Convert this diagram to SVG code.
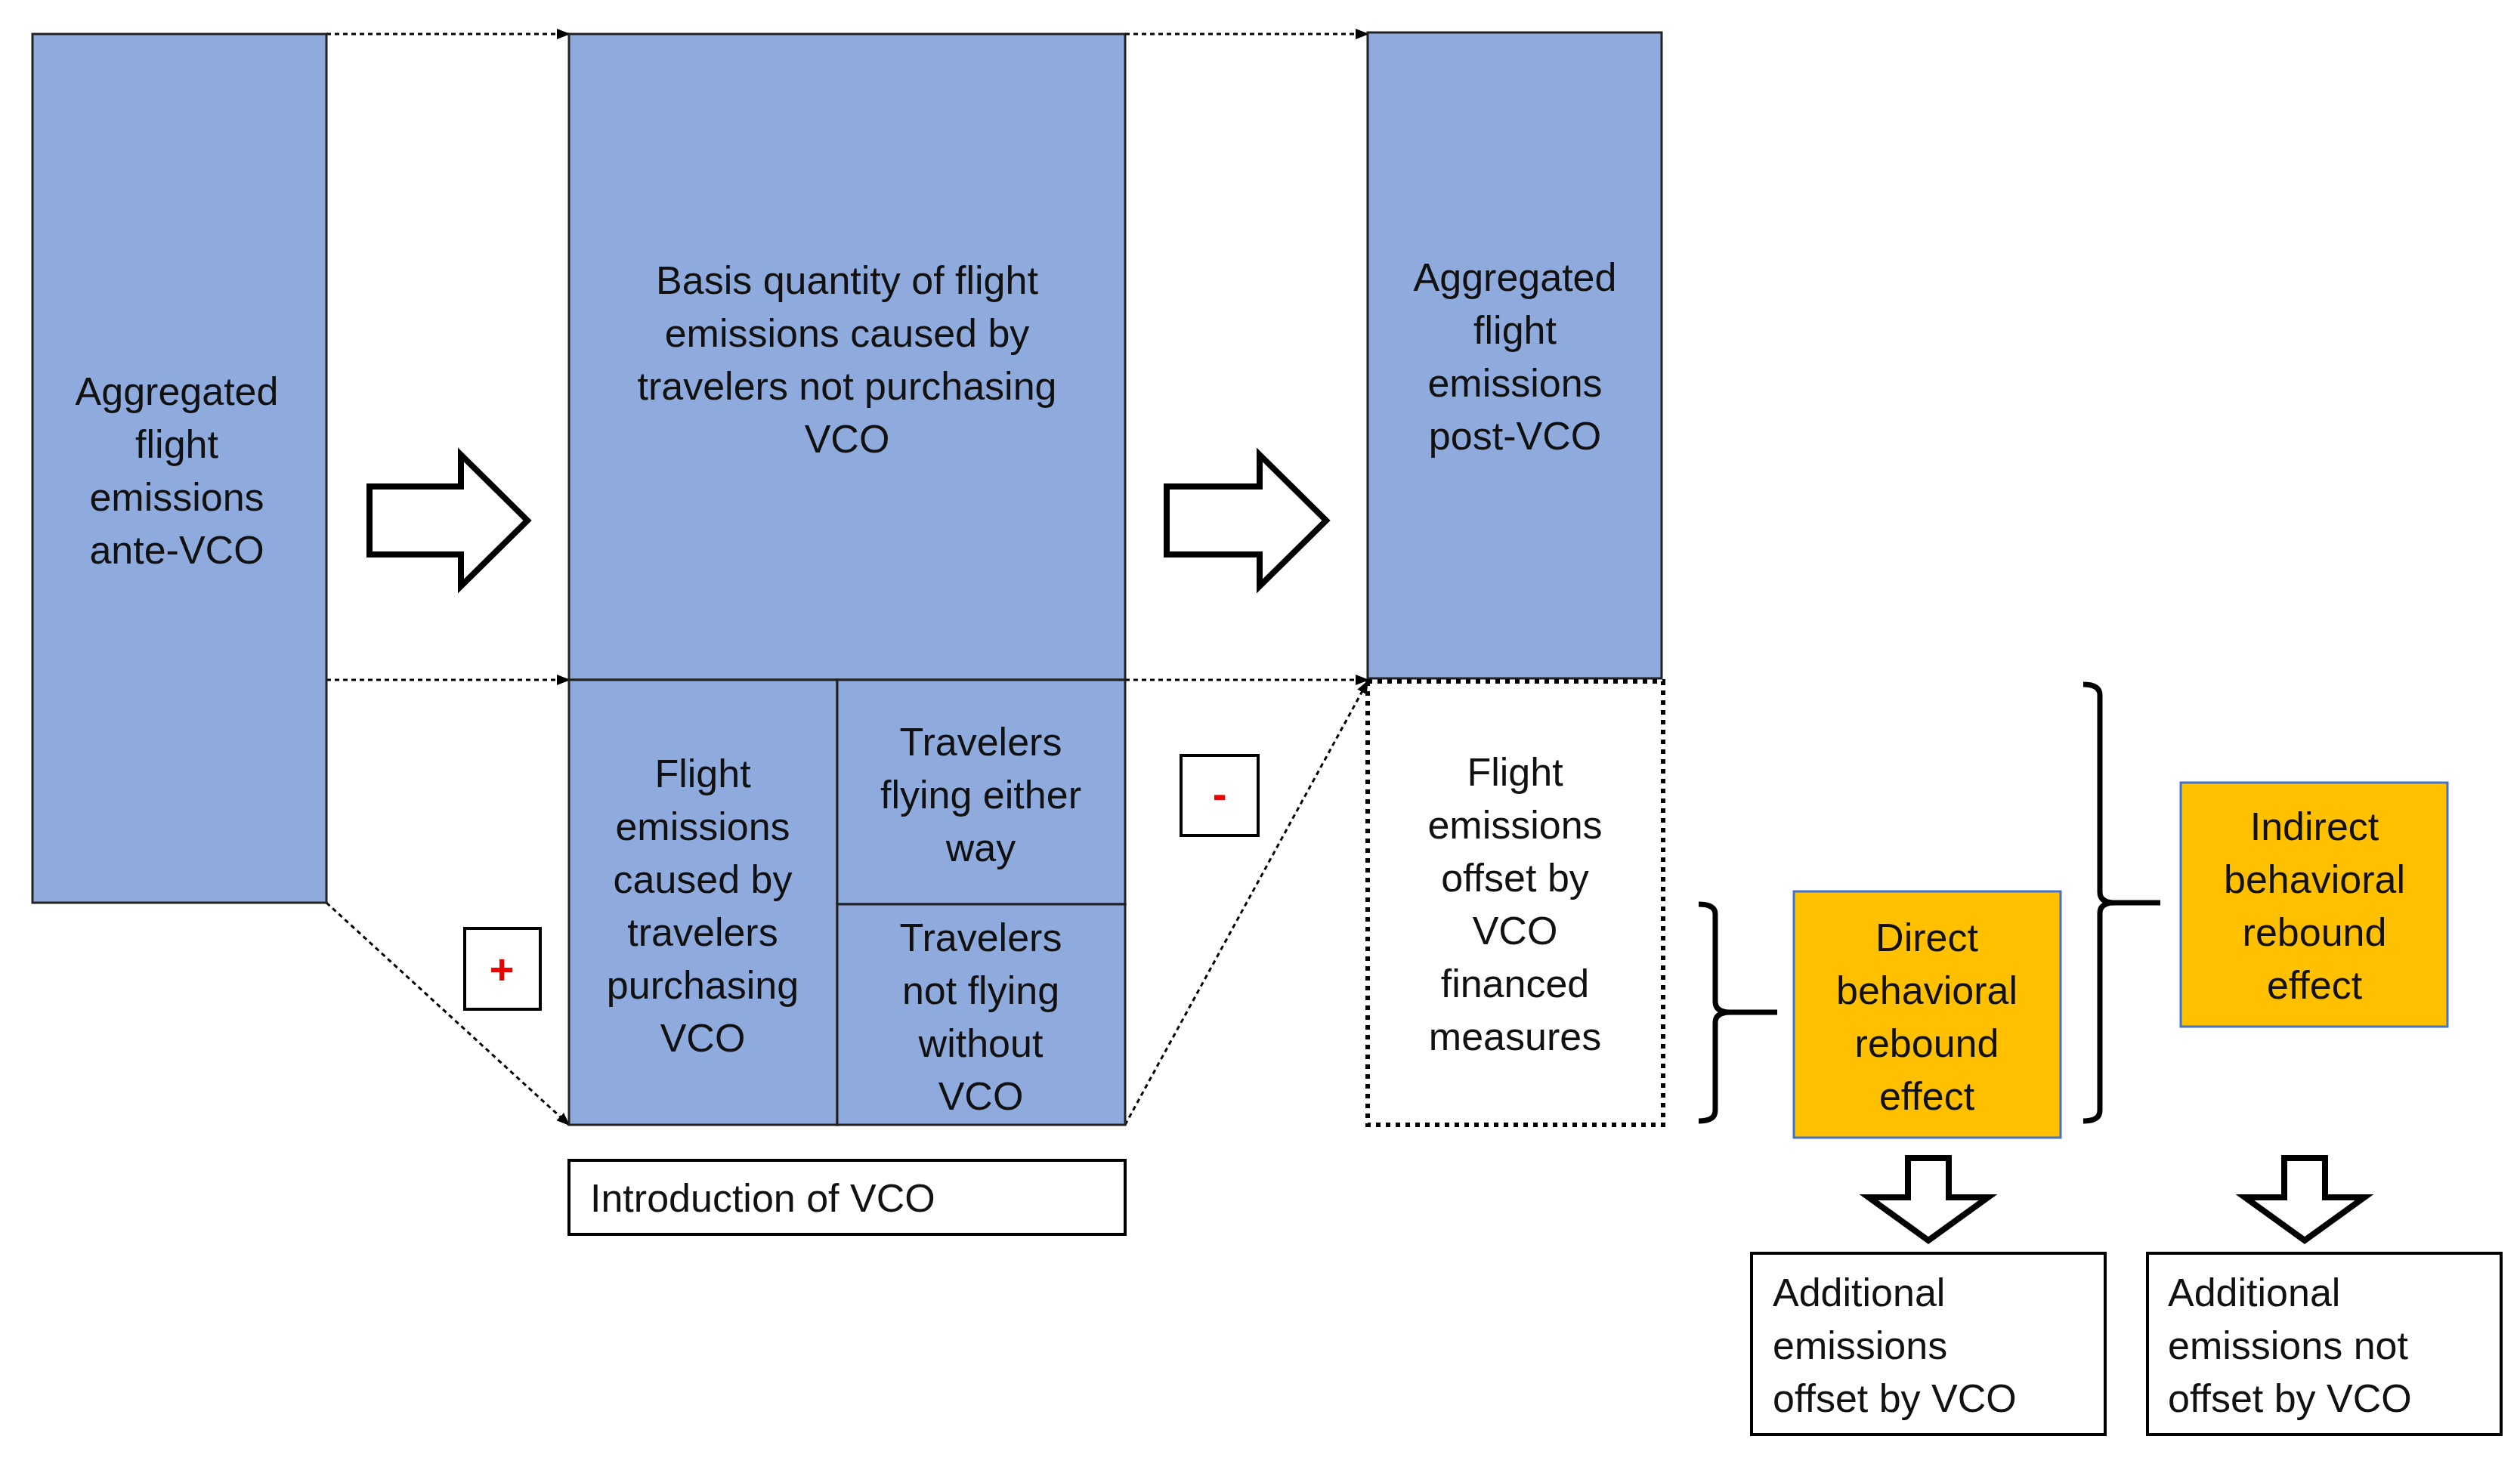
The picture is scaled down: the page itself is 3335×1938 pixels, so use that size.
<svg xmlns="http://www.w3.org/2000/svg" width="3335" height="1938" viewBox="0 0 3335 1938">
<style>
.b{fill:#8FAADC;stroke:#222;stroke-width:3}
.o{fill:#FFC000;stroke:#4472C4;stroke-width:3}
.w{fill:#fff;stroke:#000;stroke-width:4}
.d{fill:none;stroke:#000;stroke-width:3;stroke-dasharray:6 5}
.ar{fill:#fff;stroke:#000;stroke-width:8;stroke-linejoin:miter}
.br{fill:none;stroke:#000;stroke-width:7}
text{font-family:"Liberation Sans",Arial,sans-serif;font-size:52px;fill:#111}
.c{text-anchor:middle}
</style>
<defs><marker id="m" markerWidth="8" markerHeight="8" refX="7" refY="4" orient="auto" markerUnits="userSpaceOnUse" viewBox="0 0 8 8"><path d="M0,0L8,4L0,8z" fill="#000"/></marker>
<marker id="m2" markerWidth="18" markerHeight="18" refX="16" refY="9" orient="auto" markerUnits="userSpaceOnUse"><path d="M0,2L18,9L0,16z" fill="#000"/></marker></defs>
<g id="connectors">
<line class="d" x1="432" y1="45" x2="753" y2="45" marker-end="url(#m2)"/>
<line class="d" x1="1489" y1="45" x2="1810" y2="45" marker-end="url(#m2)"/>
<line class="d" x1="432" y1="900" x2="753" y2="900" marker-end="url(#m2)"/>
<line class="d" x1="1489" y1="900" x2="1810" y2="900" marker-end="url(#m2)"/>
<line class="d" x1="432" y1="1195" x2="753" y2="1489" marker-end="url(#m2)"/>
<line class="d" x1="1489" y1="1489" x2="1810" y2="902" marker-end="url(#m2)"/>
</g>
<g id="ante"><rect class="b" x="43" y="45" width="389" height="1150"/>
<text class="c" x="234" y="536">Aggregated</text><text class="c" x="234" y="606">flight</text><text class="c" x="234" y="676">emissions</text><text class="c" x="234" y="746">ante-VCO</text></g>
<g id="basis"><rect class="b" x="753" y="45" width="736" height="855"/>
<text class="c" x="1121" y="389">Basis quantity of flight</text><text class="c" x="1121" y="459">emissions caused by</text><text class="c" x="1121" y="529">travelers not purchasing</text><text class="c" x="1121" y="599">VCO</text></g>
<g id="purchasing"><rect class="b" x="753" y="900" width="355" height="589"/>
<text class="c" x="930" y="1042">Flight</text><text class="c" x="930" y="1112">emissions</text><text class="c" x="930" y="1182">caused by</text><text class="c" x="930" y="1252">travelers</text><text class="c" x="930" y="1322">purchasing</text><text class="c" x="930" y="1392">VCO</text></g>
<g id="either"><rect class="b" x="1108" y="900" width="381" height="297"/>
<text class="c" x="1298" y="1000">Travelers</text><text class="c" x="1298" y="1070">flying either</text><text class="c" x="1298" y="1140">way</text></g>
<g id="notflying"><rect class="b" x="1108" y="1197" width="381" height="292"/>
<text class="c" x="1298" y="1259">Travelers</text><text class="c" x="1298" y="1329">not flying</text><text class="c" x="1298" y="1399">without</text><text class="c" x="1298" y="1469">VCO</text></g>
<g id="post"><rect class="b" x="1810" y="43" width="389" height="855"/>
<text class="c" x="2005" y="385">Aggregated</text><text class="c" x="2005" y="455">flight</text><text class="c" x="2005" y="525">emissions</text><text class="c" x="2005" y="595">post-VCO</text></g>
<g id="offset"><rect x="1810" y="902" width="391" height="587" fill="#fff" stroke="#000" stroke-width="6" stroke-dasharray="6 7"/>
<text class="c" x="2005" y="1040">Flight</text><text class="c" x="2005" y="1110">emissions</text><text class="c" x="2005" y="1180">offset by</text><text class="c" x="2005" y="1250">VCO</text><text class="c" x="2005" y="1320">financed</text><text class="c" x="2005" y="1390">measures</text></g>
<g id="intro"><rect class="w" x="753" y="1536" width="736" height="98"/><text x="781" y="1604">Introduction of VCO</text></g>
<g id="plus"><rect class="w" x="615" y="1229" width="100" height="107"/><text class="c" x="664" y="1302" style="fill:#E00;font-weight:bold;font-size:56px">+</text></g>
<g id="minus"><rect class="w" x="1563" y="1000" width="102" height="106"/><text class="c" x="1614" y="1070" style="fill:#E00;font-weight:bold;font-size:56px">-</text></g>
<g id="arrow1"><path class="ar" d="M489,644H610V602L698,689L610,776V734H489Z"/></g>
<g id="arrow2"><path class="ar" d="M1544,644H1667V602L1755,689L1667,776V734H1544Z"/></g>
<g id="bracket1"><path class="br" d="M2248,1197Q2270,1197 2270,1210V1326Q2270,1340 2290,1340H2352M2290,1340Q2270,1340 2270,1354V1470Q2270,1484 2248,1484"/></g>
<g id="bracket2"><path class="br" d="M2757,906Q2779,906 2779,920V1181Q2779,1195 2799,1195H2859M2799,1195Q2779,1195 2779,1209V1470Q2779,1484 2757,1484"/></g>
<g id="direct"><rect class="o" x="2374" y="1180" width="353" height="326"/>
<text class="c" x="2550" y="1259">Direct</text><text class="c" x="2550" y="1329">behavioral</text><text class="c" x="2550" y="1399">rebound</text><text class="c" x="2550" y="1469">effect</text></g>
<g id="indirect"><rect class="o" x="2886" y="1036" width="353" height="323"/>
<text class="c" x="3063" y="1112">Indirect</text><text class="c" x="3063" y="1182">behavioral</text><text class="c" x="3063" y="1252">rebound</text><text class="c" x="3063" y="1322">effect</text></g>
<g id="down1"><path class="ar" d="M2525,1533H2579V1585H2631L2552,1642L2473,1585H2525Z"/></g>
<g id="down2"><path class="ar" d="M3023,1533H3077V1585H3129L3050,1642L2971,1585H3023Z"/></g>
<g id="add1"><rect class="w" x="2318" y="1659" width="468" height="240"/>
<text x="2346" y="1729">Additional</text><text x="2346" y="1799">emissions</text><text x="2346" y="1869">offset by VCO</text></g>
<g id="add2"><rect class="w" x="2842" y="1659" width="468" height="240"/>
<text x="2869" y="1729">Additional</text><text x="2869" y="1799">emissions not</text><text x="2869" y="1869">offset by VCO</text></g>
</svg>
